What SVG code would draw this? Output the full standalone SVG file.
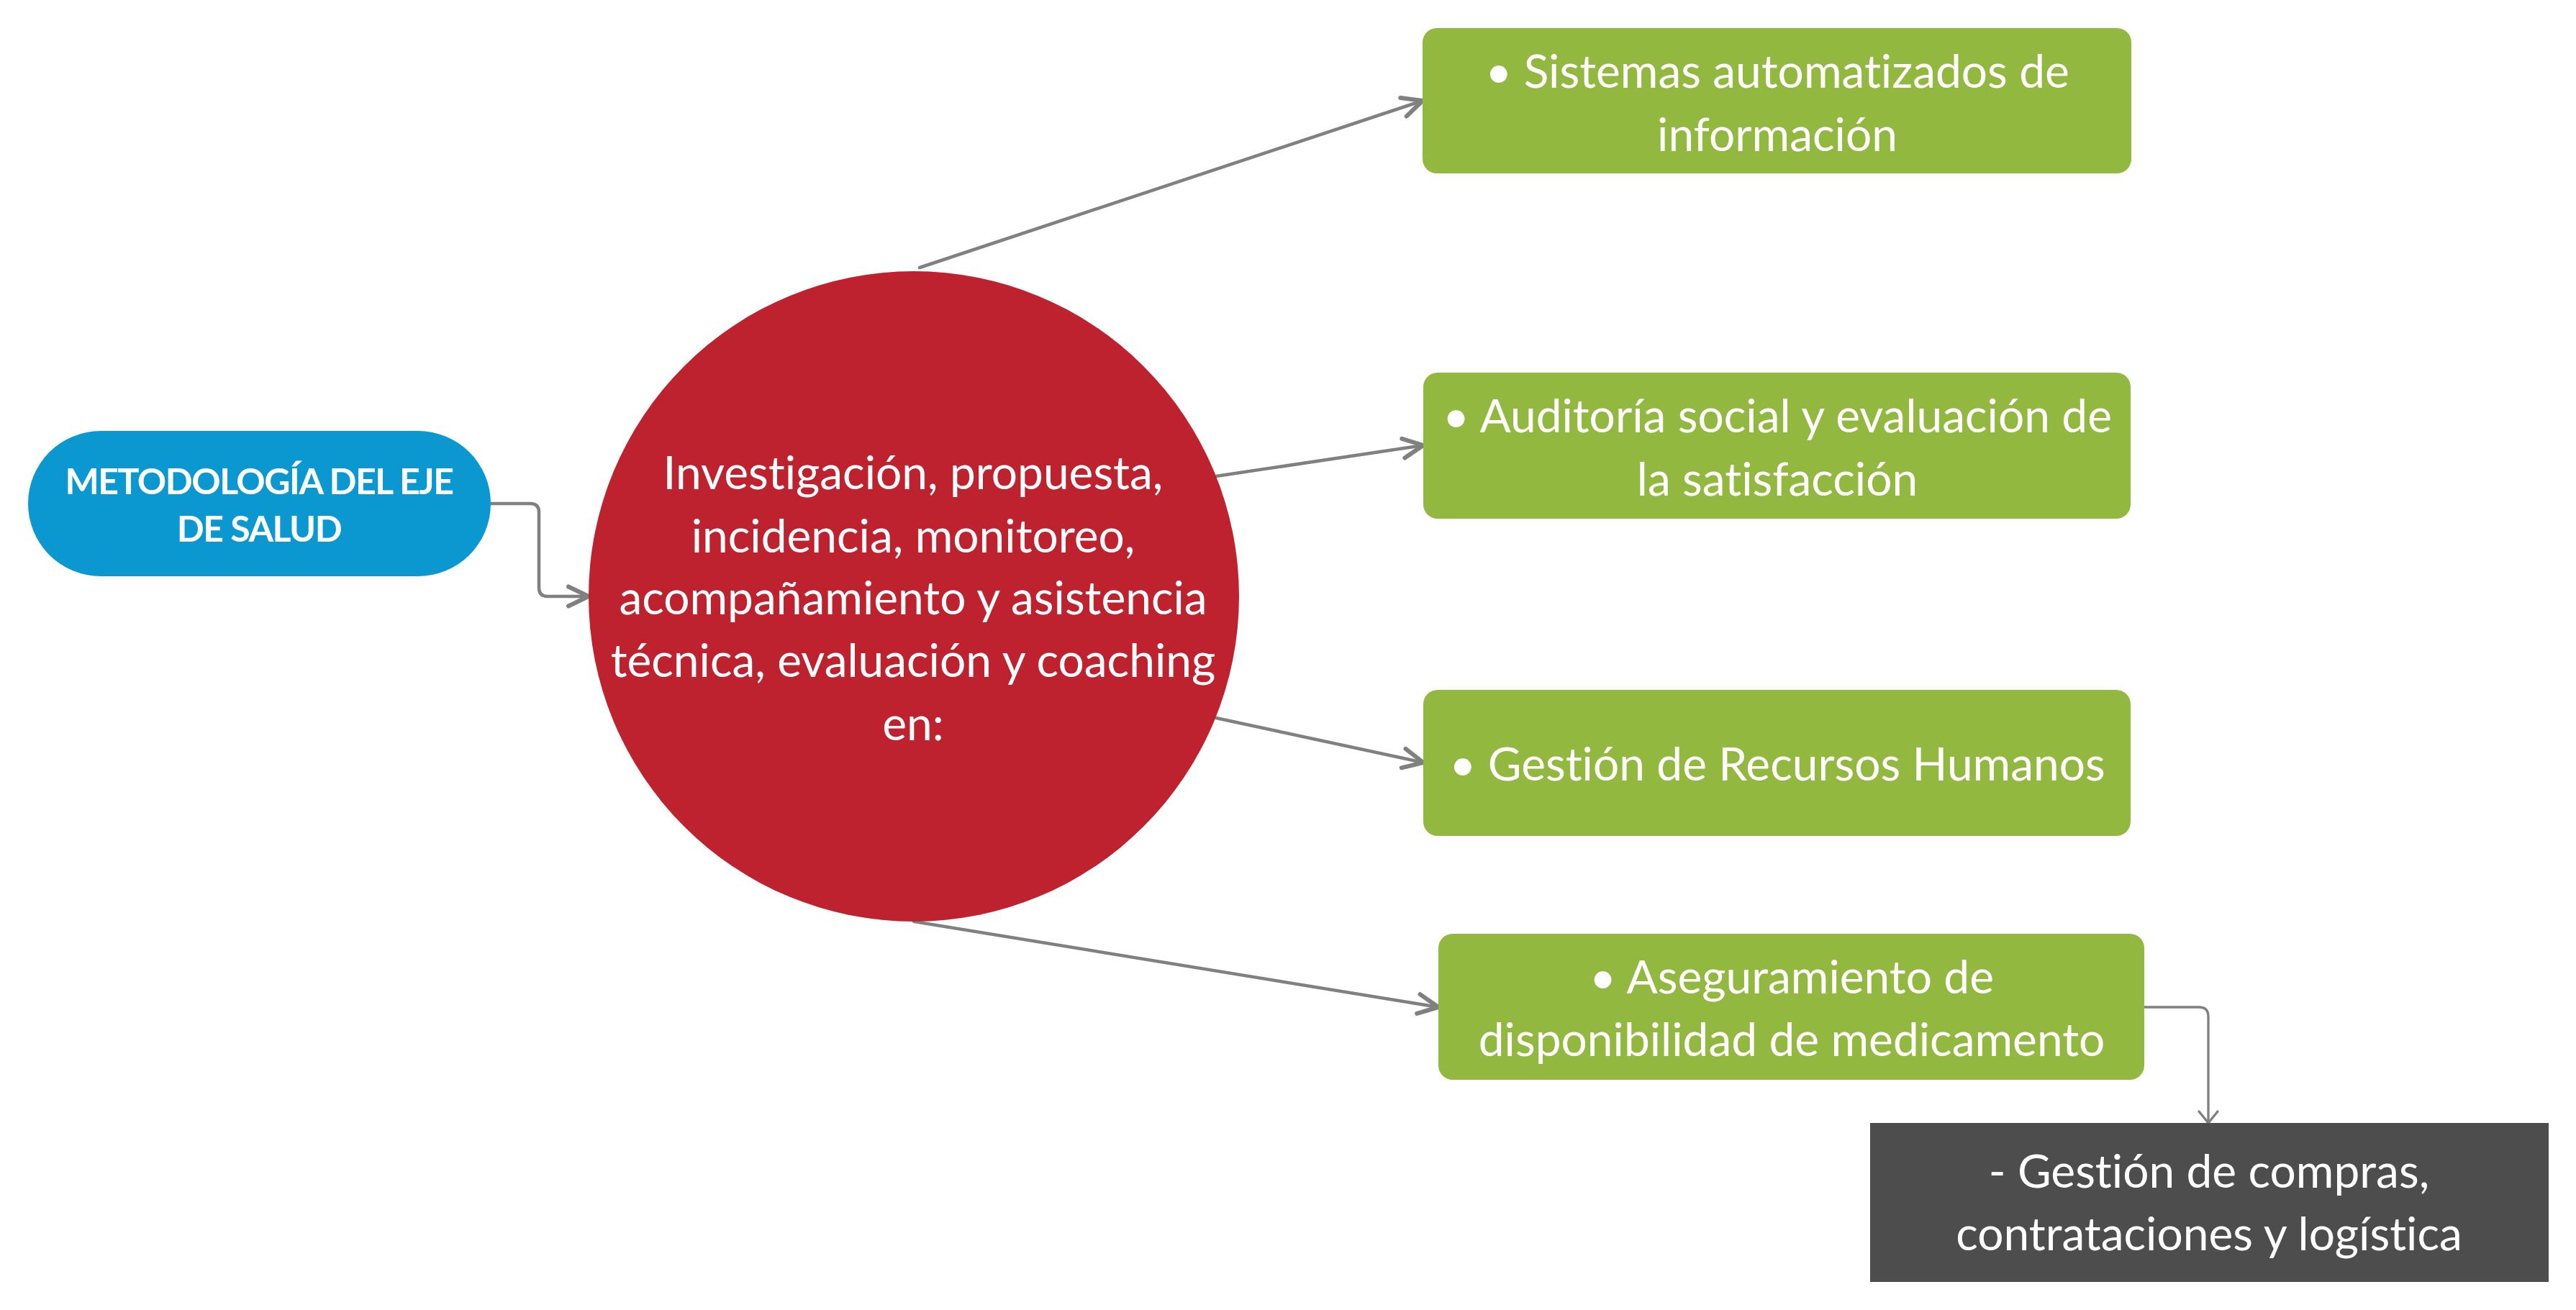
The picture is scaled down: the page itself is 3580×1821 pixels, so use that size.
<svg xmlns="http://www.w3.org/2000/svg" width="3580" height="1821" viewBox="0 0 3580 1821">
<defs>
<style>
.t{font-family:Lato,"Noto Sans","Liberation Sans",sans-serif;fill:#fff;text-anchor:middle;font-size:64px;font-variant-ligatures:none;font-feature-settings:"liga" 0,"clig" 0}
.b{font-family:Lato,"Noto Sans","Liberation Sans",sans-serif;fill:#fff;text-anchor:middle;font-size:50px;font-weight:bold;font-variant-ligatures:none}
.green{fill:#93B840}
.c{fill:none;stroke:#808080;stroke-width:4.5;stroke-linecap:round;stroke-linejoin:round}
</style>
<marker id="arr" markerUnits="userSpaceOnUse" viewBox="-40 -25 50 50" markerWidth="50" markerHeight="50" refX="0" refY="0" orient="auto">
<path d="M-28,-13.5 L0,0 L-28,13.5" fill="none" stroke="#808080" stroke-width="6" stroke-linecap="round" stroke-linejoin="round"/>
</marker>
<marker id="arr2" markerUnits="userSpaceOnUse" viewBox="-30 -25 40 50" markerWidth="40" markerHeight="50" refX="0" refY="0" orient="auto">
<path d="M-16,-13 L0,0 L-16,13" fill="none" stroke="#808080" stroke-width="3.5" stroke-linecap="round" stroke-linejoin="round"/>
</marker>
</defs>
<rect width="3580" height="1821" fill="#fff"/>
<g id="connectors">
<path class="c" d="M682,700 H737 Q749,700 749,712 V817 Q749,829 761,829 H818" marker-end="url(#arr)"/>
<path class="c" d="M1278,372 L1977,140" marker-end="url(#arr)"/>
<path class="c" d="M1690,662 L1978,619" marker-end="url(#arr)"/>
<path class="c" d="M1690,998 L1978,1060" marker-end="url(#arr)"/>
<path class="c" d="M1270,1281 L1999,1400" marker-end="url(#arr)"/>
<path class="c" style="stroke-width:3.3" d="M2980,1400 H3056 Q3069,1400 3069,1413 V1561" marker-end="url(#arr2)"/>
</g>
<g id="metodologia">
<rect x="39" y="599" width="643" height="202" rx="101" fill="#0B97CF"/>
<text class="b" x="360" y="687" letter-spacing="-1.5">METODOLOGÍA DEL EJE</text>
<text class="b" x="360" y="753" letter-spacing="-1.5">DE SALUD</text>
</g>
<g id="centro">
<circle cx="1270" cy="829" r="452" fill="#BE222E"/>
<text class="t" x="1269" y="680">Investigación, propuesta,</text>
<text class="t" x="1269" y="768">incidencia, monitoreo,</text>
<text class="t" x="1269" y="854">acompañamiento y asistencia</text>
<text class="t" x="1269" y="941">técnica, evaluación y coaching</text>
<text class="t" x="1269" y="1029">en:</text>
</g>
<g id="sistemas">
<rect class="green" x="1977" y="39" width="985" height="202" rx="20"/>
<text class="t" x="2470" y="122">• Sistemas automatizados de</text>
<text class="t" x="2470" y="210">información</text>
</g>
<g id="auditoria">
<rect class="green" x="1978" y="518" width="983" height="203" rx="20"/>
<text class="t" x="2470" y="601">• Auditoría social y evaluación de</text>
<text class="t" x="2470" y="689">la satisfacción</text>
</g>
<g id="rrhh">
<rect class="green" x="1978" y="959" width="983" height="203" rx="20"/>
<text class="t" x="2470" y="1085">• Gestión de Recursos Humanos</text>
</g>
<g id="medicamento">
<rect class="green" x="1999" y="1298" width="981" height="203" rx="20"/>
<text class="t" x="2490" y="1381">• Aseguramiento de</text>
<text class="t" x="2490" y="1468">disponibilidad de medicamento</text>
</g>
<g id="compras">
<rect x="2599" y="1561" width="943" height="221" fill="#4D4D4D"/>
<text class="t" x="3070" y="1651">- Gestión de compras,</text>
<text class="t" x="3070" y="1738">contrataciones y logística</text>
</g>
</svg>
